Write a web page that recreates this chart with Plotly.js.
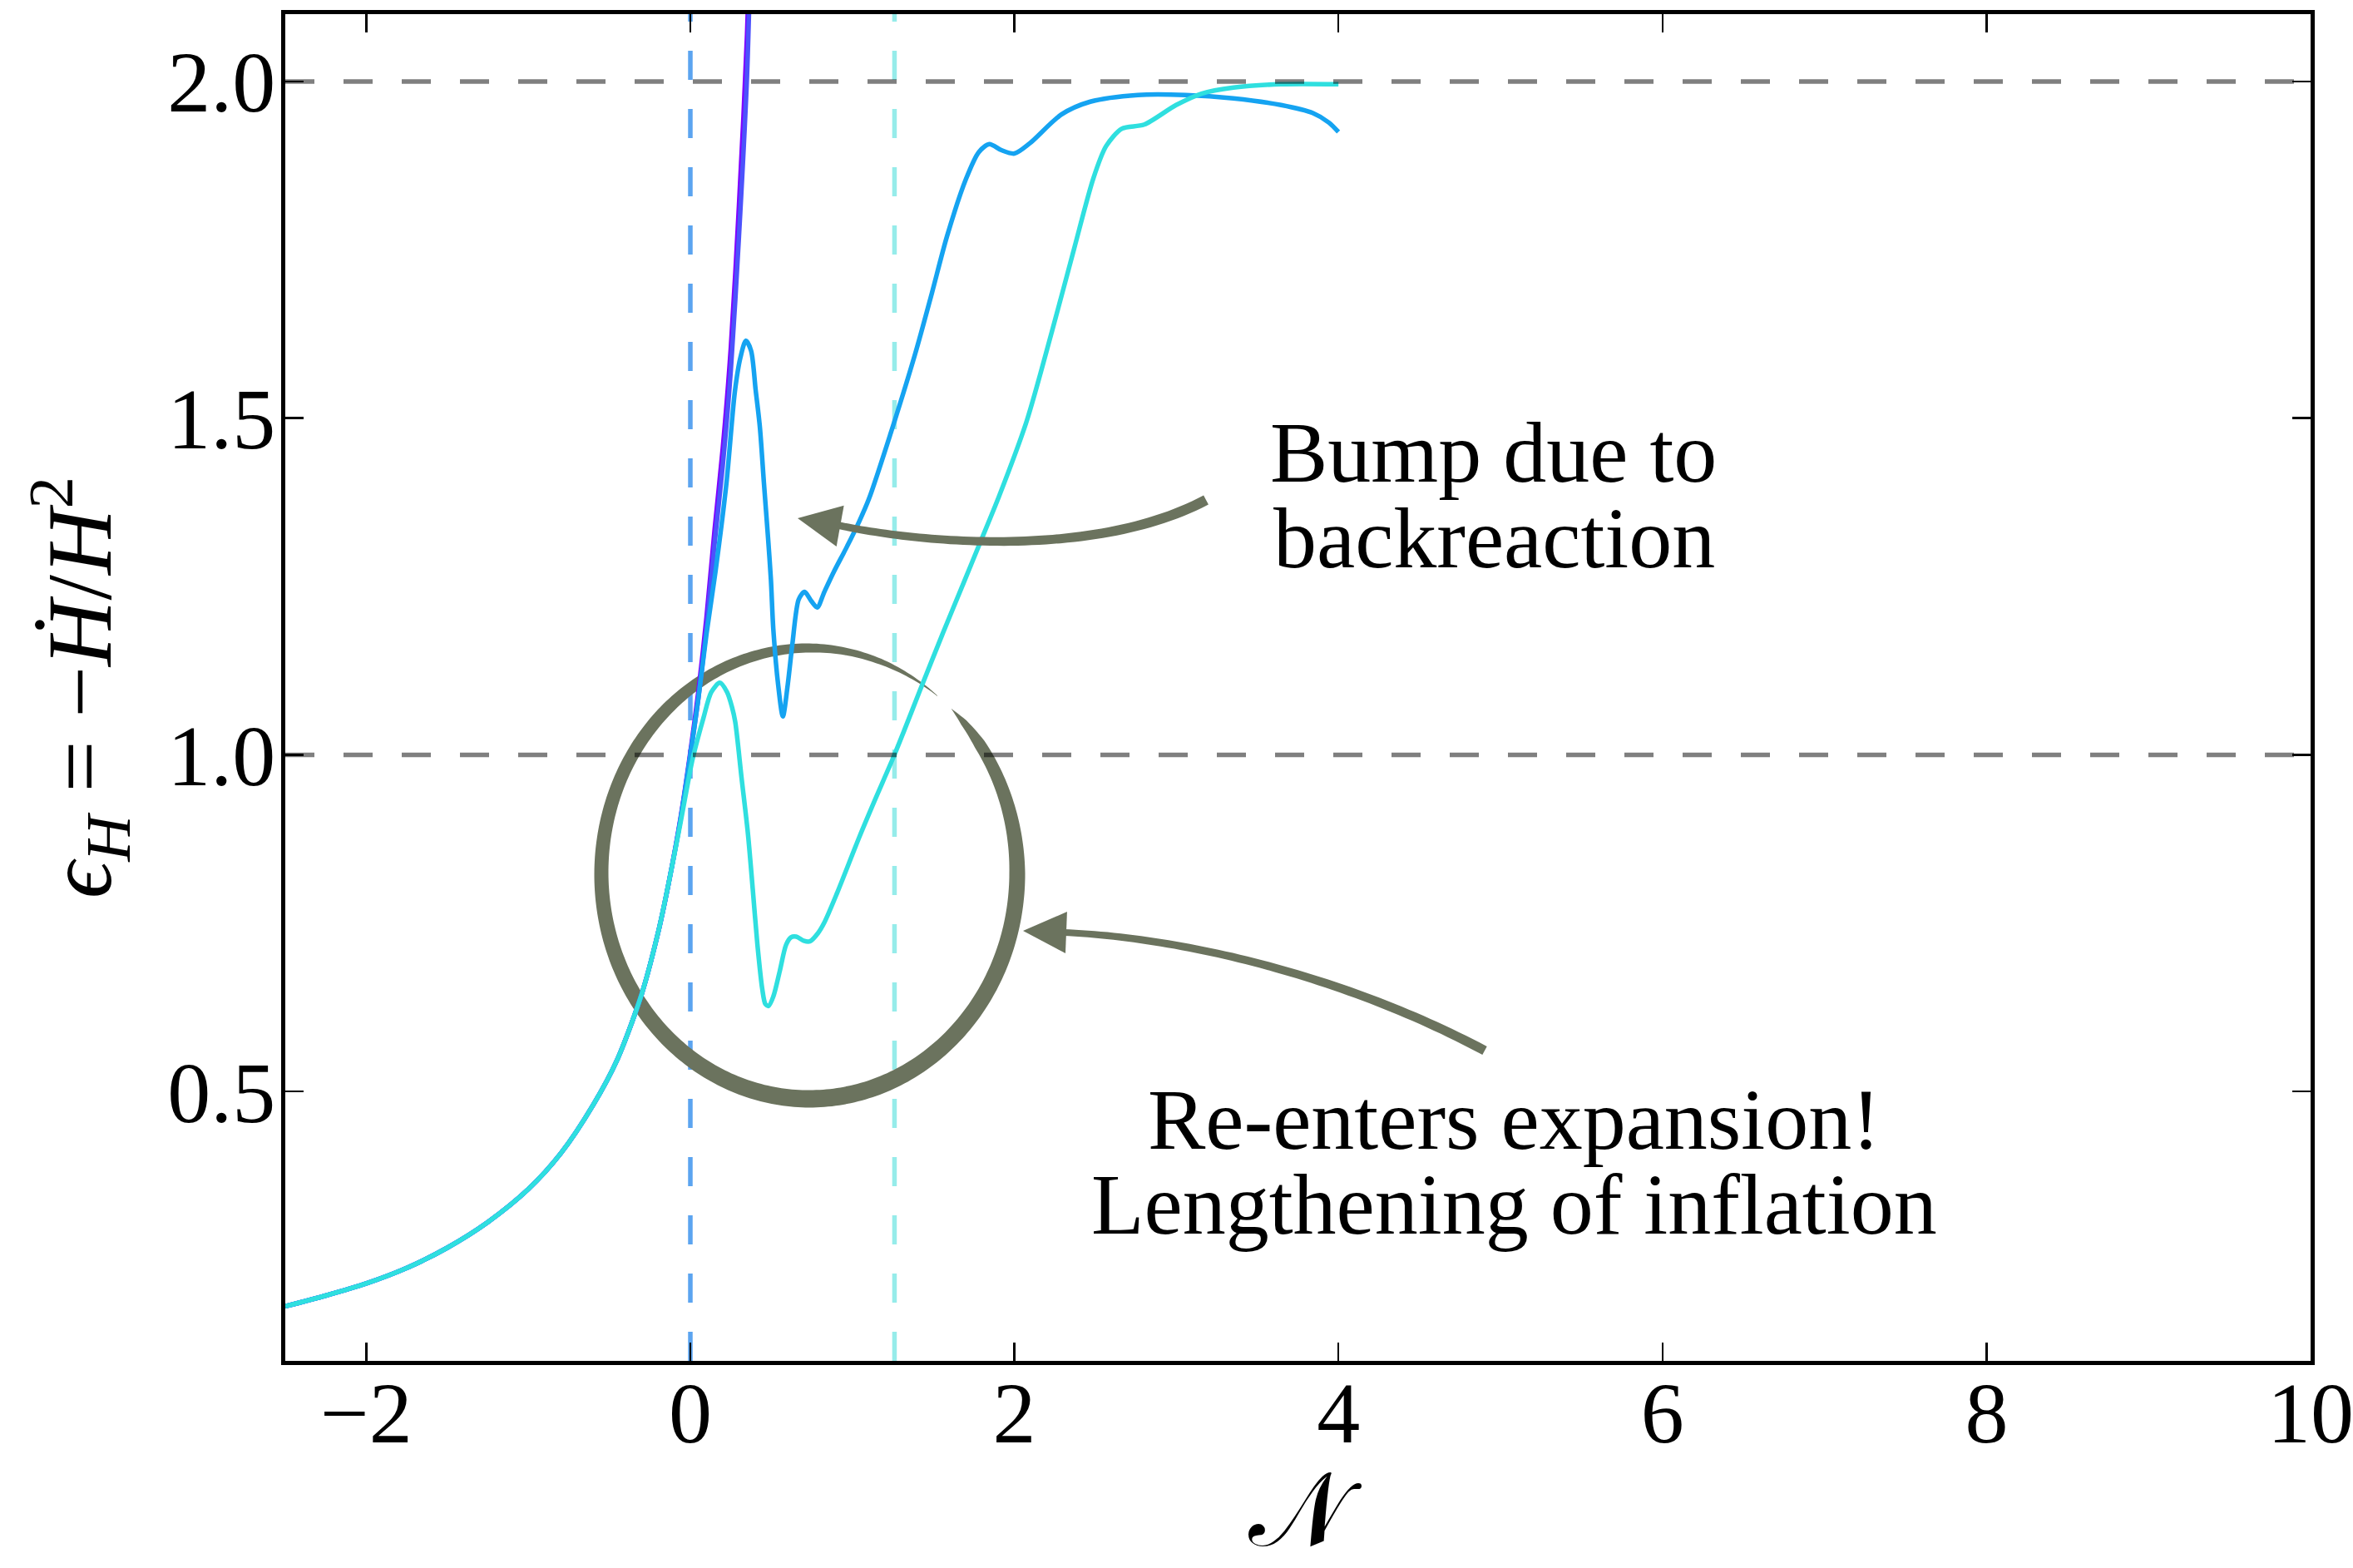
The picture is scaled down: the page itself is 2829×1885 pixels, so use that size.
<!DOCTYPE html>
<html>
<head>
<meta charset="utf-8">
<script src="https://cdn.plot.ly/plotly-3.0.1.min.js"></script>
<style>
  html, body { margin: 0; padding: 0; background: #ffffff; }
  #chart { width: 2829px; height: 1885px; }
</style>
</head>
<body>
<div id="chart"></div>
<script>
// ---------------------------------------------------------------
// Hubble slow-roll parameter eps_H versus e-folds N
// ---------------------------------------------------------------

// Common early-time evolution (all runs coincide here)
const nEarly   = [-2.5, -2.25, -2.0, -1.75, -1.5, -1.25, -1.0, -0.8, -0.6, -0.45, -0.3, -0.2, -0.135];
const epsEarly = [0.181, 0.197, 0.215, 0.238, 0.268, 0.306, 0.355, 0.408, 0.48, 0.548, 0.645, 0.735, 0.808];

// Run without backreaction (violet) and a weak-coupling run (blue)
const nViolet   = [-0.06, 0.0, 0.05, 0.1, 0.15, 0.2, 0.25, 0.3, 0.35, 0.38];
const epsViolet = [0.907, 1.004, 1.095, 1.205, 1.335, 1.455, 1.605, 1.815, 2.07, 2.36];
const nBlue     = [-0.06, 0.0, 0.05, 0.1, 0.15, 0.2, 0.25, 0.3, 0.35, 0.38];
const epsBlue   = [0.905, 1.0, 1.085, 1.19, 1.315, 1.43, 1.572, 1.77, 2.01, 2.28];

// Intermediate coupling (azure): bump due to backreaction
const nAzure = [-0.06, 0.0, 0.05, 0.1, 0.155, 0.223, 0.275, 0.309, 0.343, 0.375, 0.403, 0.429,
  0.454, 0.48, 0.497, 0.512, 0.542, 0.571, 0.601, 0.63, 0.669, 0.705, 0.748, 0.783, 0.827,
  0.886, 0.964, 1.043, 1.102, 1.233, 1.387, 1.49, 1.584, 1.701, 1.78, 1.845, 1.92, 2.0,
  2.094, 2.29, 2.468, 2.762, 3.057, 3.352, 3.646, 3.843, 3.941, 4.0];
const epsAzure = [0.905, 1.0, 1.085, 1.18, 1.272, 1.404, 1.54, 1.59, 1.615, 1.6, 1.542, 1.487,
  1.404, 1.321, 1.261, 1.187, 1.104, 1.057, 1.104, 1.165, 1.231, 1.242, 1.228, 1.219, 1.242,
  1.272, 1.308, 1.347, 1.38, 1.475, 1.595, 1.685, 1.77, 1.855, 1.895, 1.907, 1.898, 1.893,
  1.908, 1.951, 1.97, 1.98, 1.98, 1.975, 1.965, 1.953, 1.939, 1.925];

// Strong coupling (cyan): eps_H drops back below 1 -> inflation resumes
const nCyan = [-0.06, 0.0, 0.02, 0.08, 0.129, 0.182, 0.227, 0.257, 0.277, 0.316, 0.355, 0.385,
  0.414, 0.444, 0.463, 0.483, 0.512, 0.552, 0.591, 0.621, 0.654, 0.699, 0.738, 0.787, 0.827,
  0.906, 1.043, 1.141, 1.249, 1.318, 1.416, 1.554, 1.691, 1.79, 1.907, 2.075, 2.232, 2.369,
  2.487, 2.566, 2.664, 2.801, 2.998, 3.155, 3.352, 3.646, 4.0];
const epsCyan = [0.9, 0.978, 1.0, 1.054, 1.093, 1.107, 1.093, 1.071, 1.049, 0.966, 0.884, 0.801,
  0.718, 0.652, 0.630, 0.627, 0.641, 0.679, 0.718, 0.729, 0.730, 0.724, 0.723, 0.735, 0.751,
  0.795, 0.878, 0.934, 0.994, 1.035, 1.095, 1.178, 1.258, 1.316, 1.385, 1.495, 1.629, 1.752,
  1.856, 1.904, 1.930, 1.936, 1.965, 1.982, 1.991, 1.996, 1.996];

// End of inflation (eps_H = 1) for the blue and the cyan runs
const endOfInflationN = [0.0, 1.26];
// Reference levels eps_H = 1 (end of inflation) and eps_H = 2
const referenceLevels = [1.0, 2.0];

// Axis ticks
const xTickVals = [-2, 0, 2, 4, 6, 8, 10];
const xTickText = ['\u22122', '0', '2', '4', '6', '8', '10'];
const yTickVals = [0.5, 1.0, 1.5, 2.0];
const yTickText = ['0.5', '1.0', '1.5', '2.0'];

// ---------------------------------------------------------------
// Figure geometry and styling
// ---------------------------------------------------------------
const FIG_W = 2829, FIG_H = 1885;
const MARGIN = { l: 343, r: 51, t: 17, b: 249, pad: 0 };
const PLOT_W = FIG_W - MARGIN.l - MARGIN.r;
const PLOT_H = FIG_H - MARGIN.t - MARGIN.b;
const SERIF = '"Liberation Serif", "DejaVu Serif", serif';
const NOTE_COLOR = '#6b735e';

// pixel position on the page -> paper coordinates
function toPaper(px, py) {
  return [(px - MARGIN.l) / PLOT_W, 1 - (py - MARGIN.t) / PLOT_H];
}
function fmt(p) { return p[0].toFixed(5) + ',' + p[1].toFixed(5); }
function polygon(pts) { return 'M' + pts.map(p => fmt(toPaper(p[0], p[1]))).join('L') + 'Z'; }

// Brush-like ring around the re-entry region
function ringPath() {
  const cx = 973, cy = 1050, a = 250, b = 271;
  const profile = [[47, 0], [42, 8], [35, 14], [0, 19], [-45, 20], [-90, 21], [-135, 19],
                   [-180, 17], [-225, 15], [-270, 11], [-290, 7], [-300, 3.5], [-308, 0.5]];
  function width(t) {
    for (let i = 0; i < profile.length - 1; i++) {
      const [t0, w0] = profile[i], [t1, w1] = profile[i + 1];
      if (t <= t0 && t >= t1) return w0 + (w1 - w0) * (t - t0) / (t1 - t0);
    }
    return 0;
  }
  const outer = [], inner = [];
  for (let t = 47; t >= -308; t -= 1) {
    const r = t * Math.PI / 180;
    const x = cx + a * Math.cos(r), y = cy - b * Math.sin(r);
    let nx = Math.cos(r) / a, ny = -Math.sin(r) / b;
    const L = Math.hypot(nx, ny); nx /= L; ny /= L;
    const w = width(t) / 2;
    outer.push([x + nx * w, y + ny * w]);
    inner.push([x - nx * w, y - ny * w]);
  }
  return polygon(outer.concat(inner.reverse()));
}

// Tapered arrow shaft along a cubic Bezier, width w0 at p0 growing to w1 at p3
function shaftPath(p0, c1, c2, p3, w0, w1) {
  const left = [], right = [];
  const N = 60;
  for (let i = 0; i <= N; i++) {
    const t = i / N, u = 1 - t;
    const x = u*u*u*p0[0] + 3*u*u*t*c1[0] + 3*u*t*t*c2[0] + t*t*t*p3[0];
    const y = u*u*u*p0[1] + 3*u*u*t*c1[1] + 3*u*t*t*c2[1] + t*t*t*p3[1];
    const dx = 3*u*u*(c1[0]-p0[0]) + 6*u*t*(c2[0]-c1[0]) + 3*t*t*(p3[0]-c2[0]);
    const dy = 3*u*u*(c1[1]-p0[1]) + 6*u*t*(c2[1]-c1[1]) + 3*t*t*(p3[1]-c2[1]);
    const L = Math.hypot(dx, dy);
    const nx = -dy / L, ny = dx / L;
    const w = (w0 + (w1 - w0) * t) / 2;
    left.push([x + nx * w, y + ny * w]);
    right.push([x - nx * w, y - ny * w]);
  }
  return polygon(left.concat(right.reverse()));
}

// Arrow head: tip point, direction from base toward tip, length and width
function headPath(tip, dir, len, wid) {
  const L = Math.hypot(dir[0], dir[1]);
  const ux = dir[0] / L, uy = dir[1] / L;
  const bx = tip[0] - ux * len, by = tip[1] - uy * len;
  const px = -uy, py = ux;
  return polygon([tip, [bx + px * wid / 2, by + py * wid / 2], [bx - px * wid / 2, by - py * wid / 2]]);
}

// ---------------------------------------------------------------
// Traces
// ---------------------------------------------------------------
function run(nTail, epsTail, color) {
  return {
    x: nEarly.concat(nTail), y: epsEarly.concat(epsTail),
    type: 'scatter', mode: 'lines',
    line: { color: color, width: 5.5, shape: 'spline', smoothing: 0.8 },
    hoverinfo: 'skip', showlegend: false
  };
}
const traces = [
  run(nViolet, epsViolet, '#8000ff'),
  run(nBlue, epsBlue, '#4c52fc'),
  run(nAzure, epsAzure, '#15a3f1'),
  run(nCyan, epsCyan, '#2fdfdf')
];

// ---------------------------------------------------------------
// Shapes: reference lines, ring and arrows
// ---------------------------------------------------------------
const shapes = [];
const vColors = ['#5ba4f0', '#96ecea'];
endOfInflationN.forEach((n, i) => shapes.push({
  type: 'line', xref: 'x', yref: 'paper', x0: n, x1: n, y0: 0, y1: 1,
  line: { color: vColors[i], width: 5.5, dash: '35px,35px' }, layer: 'below'
}));
referenceLevels.forEach(v => shapes.push({
  type: 'line', xref: 'paper', yref: 'y', x0: 0, x1: 1, y0: v, y1: v,
  line: { color: 'rgba(0,0,0,0.5)', width: 5.5, dash: '35px,35px' }, layer: 'above'
}));
shapes.push({
  type: 'path', xref: 'paper', yref: 'paper', path: ringPath(),
  fillcolor: NOTE_COLOR, line: { width: 0 }, layer: 'below'
});
// arrow towards the backreaction bump
shapes.push({
  type: 'path', xref: 'paper', yref: 'paper',
  path: shaftPath([1006, 631], [1090, 650], [1310, 675], [1450, 601], 8.5, 12.5),
  fillcolor: NOTE_COLOR, line: { width: 0 }, layer: 'above'
});
shapes.push({
  type: 'path', xref: 'paper', yref: 'paper',
  path: headPath([959, 623], [-44, -8], 52, 50),
  fillcolor: NOTE_COLOR, line: { width: 0 }, layer: 'above'
});
// arrow towards the ring
shapes.push({
  type: 'path', xref: 'paper', yref: 'paper',
  path: shaftPath([1278, 1121], [1425, 1127], [1620, 1175], [1785, 1263], 8, 11.5),
  fillcolor: NOTE_COLOR, line: { width: 0 }, layer: 'above'
});
shapes.push({
  type: 'path', xref: 'paper', yref: 'paper',
  path: headPath([1230, 1119], [-44, -1.7], 52, 50),
  fillcolor: NOTE_COLOR, line: { width: 0 }, layer: 'above'
});

// ---------------------------------------------------------------
// Text notes (one annotation per line)
// ---------------------------------------------------------------
const NOTE_SIZE = 104;
function note(text, px, baseline) {
  const p = toPaper(px, baseline - 0.3375 * NOTE_SIZE);
  return {
    text: text, xref: 'paper', yref: 'paper', x: p[0], y: p[1],
    xanchor: 'center', yanchor: 'middle', showarrow: false,
    font: { family: SERIF, size: NOTE_SIZE, color: '#000000' }
  };
}
const annotations = [
  note('Bump due to', 1795, 579),
  note('backreaction', 1797, 682),
  note('Re-enters expansion!', 1820, 1381),
  note('Lengthening of inflation', 1820, 1483)
];

// ---------------------------------------------------------------
// Layout
// ---------------------------------------------------------------
const axisCommon = {
  showline: true, linecolor: '#000000', linewidth: 5, mirror: 'ticks',
  ticks: 'inside', ticklen: 22, tickwidth: 2.5, tickcolor: '#000000',
  showgrid: false, zeroline: false, tickmode: 'array',
  ticklabeloverflow: 'allow',
  tickfont: { family: SERIF, size: 104, color: '#000000' }
};
const layout = {
  width: FIG_W, height: FIG_H, margin: MARGIN,
  paper_bgcolor: '#ffffff', plot_bgcolor: '#ffffff',
  showlegend: false,
  xaxis: Object.assign({}, axisCommon, {
    range: [-2.5, 10], tickvals: xTickVals, ticktext: xTickText,
    ticklabelstandoff: -32,
    title: { text: '\uD835\uDCA9', font: { family: SERIF, size: 125, color: '#000000' }, standoff: 82 }
  }),
  yaxis: Object.assign({}, axisCommon, {
    range: [0.1, 2.1], tickvals: yTickVals, ticktext: yTickText,
    ticklabelstandoff: -14,
    title: {
      text: '<i>\u03F5</i><sub><i>H</i></sub> = \u2212<i>\u1E22</i>/<i>H</i><sup>2</sup>',
      font: { family: SERIF, size: 110, color: '#000000' }, standoff: 32
    }
  }),
  shapes: shapes,
  annotations: annotations
};

Plotly.newPlot('chart', traces, layout, { displayModeBar: false, staticPlot: true });
</script>
</body>
</html>
